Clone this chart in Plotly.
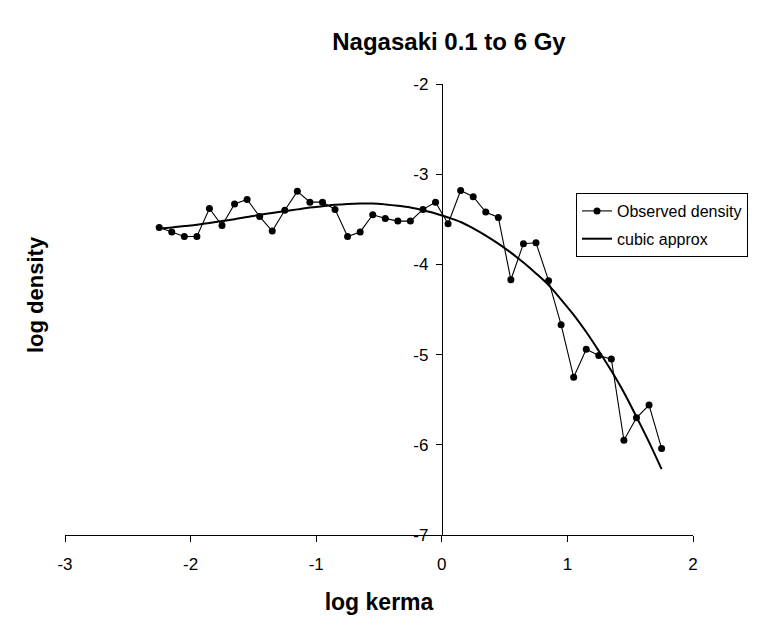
import plotly.graph_objects as go

# log kerma values (bin centres) shared by both series
log_kerma = [-2.25, -2.15, -2.05, -1.95, -1.85, -1.75, -1.65, -1.55, -1.45, -1.35,
             -1.25, -1.15, -1.05, -0.95, -0.85, -0.75, -0.65, -0.55, -0.45, -0.35,
             -0.25, -0.15, -0.05, 0.05, 0.15, 0.25, 0.35, 0.45, 0.55, 0.65,
             0.75, 0.85, 0.95, 1.05, 1.15, 1.25, 1.35, 1.45, 1.55, 1.65, 1.75]

# observed log density
observed_density = [-3.59, -3.64, -3.69, -3.69, -3.38, -3.57, -3.33, -3.28, -3.47, -3.63,
                    -3.40, -3.19, -3.31, -3.31, -3.39, -3.69, -3.64, -3.45, -3.49, -3.52,
                    -3.52, -3.39, -3.31, -3.55, -3.18, -3.25, -3.42, -3.48, -4.17, -3.77,
                    -3.76, -4.18, -4.67, -5.25, -4.94, -5.01, -5.05, -5.95, -5.70, -5.56,
                    -6.04]

# cubic approximation of log density
cubic_approx = [-3.60, -3.59, -3.575, -3.56, -3.54, -3.52, -3.50, -3.475, -3.45, -3.43,
                -3.41, -3.39, -3.37, -3.355, -3.34, -3.33, -3.325, -3.325, -3.335, -3.35,
                -3.37, -3.40, -3.435, -3.48, -3.53, -3.60, -3.68, -3.77, -3.87, -3.98,
                -4.10, -4.23, -4.39, -4.56, -4.75, -4.96, -5.18, -5.42, -5.69, -5.97,
                -6.27]

x_ticks = [-3, -2, -1, 0, 1, 2]
y_ticks = [-7, -6, -5, -4, -3, -2]

FONT = "Liberation Sans, Arial, Helvetica, sans-serif"

# plot-area geometry in pixels
L, R, T, B = 65, 73, 84, 83
PW, PH = 766 - L - R, 618 - T - B

fig = go.Figure()

fig.add_trace(go.Scatter(
    x=log_kerma, y=observed_density, name="Observed density",
    mode="lines+markers",
    line=dict(color="black", width=1.1),
    marker=dict(color="black", size=7),
    legendgroup="a",
))

fig.add_trace(go.Scatter(
    x=log_kerma, y=cubic_approx, name="cubic approx",
    mode="lines",
    line=dict(color="black", width=2, shape="spline"),
    legendgroup="b",
))

fig.update_layout(
    width=766, height=618,
    paper_bgcolor="white", plot_bgcolor="white",
    margin=dict(l=L, r=R, t=T, b=B, autoexpand=False),
    font=dict(family=FONT, color="black", size=17),
    title=dict(
        text="<b>Nagasaki 0.1 to 6 Gy</b>",
        x=449 / 766, xanchor="center",
        y=1 - 42 / 618, yanchor="middle",
        font=dict(family=FONT, size=24, color="black"),
    ),
    showlegend=True,
    legend=dict(
        x=(576 - L) / PW, y=(618 - B - 193) / PH, xanchor="left", yanchor="top",
        bgcolor="white", bordercolor="black", borderwidth=1,
        font=dict(family=FONT, size=16, color="black"),
        tracegroupgap=4,
        itemwidth=30,
    ),
    xaxis=dict(
        range=[-3, 2], tickvals=x_ticks, ticktext=[str(v) for v in x_ticks],
        showgrid=False, zeroline=False,
        showline=True, linecolor="black", linewidth=1,
        ticks="outside", ticklen=6, tickcolor="black",
        ticklabelstandoff=8,
        tickfont=dict(family=FONT, size=17, color="black"),
        title=dict(text="<b>log kerma</b>", standoff=20,
                   font=dict(family=FONT, size=23, color="black")),
    ),
    yaxis=dict(
        range=[-7, -2], tickvals=y_ticks, ticktext=[str(v) for v in y_ticks],
        anchor="free", position=0.6,
        showgrid=False, zeroline=False,
        showline=True, linecolor="black", linewidth=1,
        ticks="outside", ticklen=6, tickcolor="black",
        ticklabelstandoff=4,
        tickfont=dict(family=FONT, size=17, color="black"),
    ),
    annotations=[dict(
        text="<b>log density</b>", textangle=-90,
        xref="paper", yref="paper",
        x=(35 - L) / PW, y=(618 - B - 295) / PH,
        xanchor="center", yanchor="middle", showarrow=False,
        font=dict(family=FONT, size=22, color="black"),
    )],
)

fig.write_html("out.html")
